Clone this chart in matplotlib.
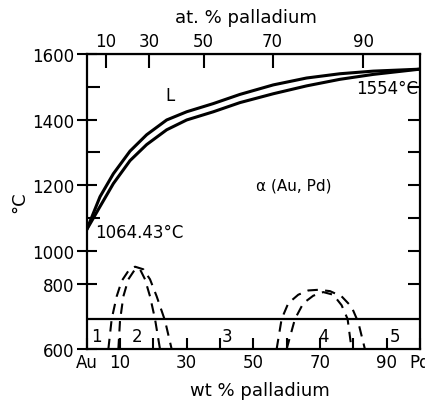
import numpy as np
import matplotlib
matplotlib.use('Agg')
import matplotlib.pyplot as plt

# Au-Pd phase diagram
liq_wt = [0, 4, 8, 13, 18, 24, 30, 38, 46, 56, 66, 76, 86, 100]
liq_T = [1064.43, 1165, 1235, 1304, 1354, 1399, 1424, 1449, 1477, 1506, 1527, 1540, 1548, 1554]
sol_wt = [0, 4, 8, 13, 18, 24, 30, 38, 46, 56, 66, 76, 86, 100]
sol_T = [1064.43, 1135, 1205, 1275, 1324, 1369, 1399, 1424, 1452, 1479, 1503, 1523, 1538, 1554]

# ordering domes (dashed)
d1o_wt = [6.5, 7.5, 9, 10.5, 12.5, 14.5, 17, 19, 21, 23.5, 25.5]
d1o_T = [600, 692, 761, 816, 877, 903, 887, 826, 761, 687, 600]
d1i_wt = [9.5, 10, 11, 12.5, 14.5, 16, 17.5, 19, 20.5, 22]
d1i_T = [600, 687, 761, 826, 887, 887, 826, 761, 692, 600]
d2o_wt = [57, 58.5, 60.5, 63.5, 66.5, 69.5, 73, 76.5, 79.5, 81.5, 83.5]
d2o_T = [600, 692, 740, 766, 779, 781, 777, 761, 729, 682, 600]
d2i_wt = [60, 62.5, 65, 68, 71, 74, 76.5, 78.3, 79.5]
d2i_T = [600, 692, 740, 763, 774, 766, 734, 692, 600]

sep_T = 692
region_labels = ['1', '2', '3', '4', '5']
region_wt = [3, 15, 42, 71, 92.5]


# temperature axis is squeezed to half scale between 800 and 1000 C
def fwd(y):
    y = np.asarray(y, dtype=float)
    return np.where(y <= 800, y, np.where(y <= 1000, 800 + (y - 800) / 2, 900 + (y - 1000)))


def inv(v):
    v = np.asarray(v, dtype=float)
    return np.where(v <= 800, v, np.where(v <= 900, 800 + (v - 800) * 2, 1000 + (v - 900)))


def wt_to_at(w):
    w = np.asarray(w, dtype=float)
    with np.errstate(divide='ignore', invalid='ignore'):
        a = w / 106.42
        b = (100 - w) / 196.97
        return 100 * a / (a + b)


def at_to_wt(x):
    x = np.asarray(x, dtype=float)
    with np.errstate(divide='ignore', invalid='ignore'):
        a = x * 106.42
        b = (100 - x) * 196.97
        return 100 * a / (a + b)


plt.rcParams['font.family'] = 'DejaVu Sans'
fig = plt.figure(figsize=(4.25, 4.02), dpi=100)
ax = fig.add_axes([0.204, 0.129, 0.784, 0.734])
ax.set_yscale('function', functions=(fwd, inv))

ax.plot(liq_wt, liq_T, color='black', lw=2.2, solid_capstyle='butt')
ax.plot(sol_wt, sol_T, color='black', lw=2.2, solid_capstyle='butt')
for xs, ys in [(d1o_wt, d1o_T), (d1i_wt, d1i_T), (d2o_wt, d2o_T), (d2i_wt, d2i_T)]:
    ax.plot(xs, ys, color='black', lw=1.5, dashes=(5, 3.5))
ax.axhline(sep_T, color='black', lw=1.6)

ax.set_xlim(0, 100)
ax.set_ylim(600, 1600)

for s in ax.spines.values():
    s.set_linewidth(1.6)

ax.set_yticks([600, 800, 1000, 1200, 1400, 1600])
ax.set_yticks([1100, 1300, 1500], minor=True)
ax.tick_params(axis='y', which='major', direction='inout', length=14, width=1.5,
               labelsize=12, pad=2)
ax.tick_params(axis='y', which='minor', direction='in', length=9, width=1.5)

# right side ticks point inward only
ax2 = ax.twinx()
ax2.set_yscale('function', functions=(fwd, inv))
ax2.set_ylim(600, 1600)
ax2.set_yticks([800, 1000, 1200, 1400])
ax2.set_yticks([1100, 1300, 1500], minor=True)
ax2.tick_params(axis='y', which='both', direction='in', length=9, width=1.5, labelright=False)
for s in ax2.spines.values():
    s.set_visible(False)

ax.set_xticks(range(0, 101, 10))
ax.set_xticklabels(['Au', '10', '', '30', '', '50', '', '70', '', '90', 'Pd'])
ax.xaxis.set_minor_locator(plt.NullLocator())
ax.tick_params(axis='x', direction='in', length=8, width=1.5, labelsize=12, pad=3)

sec = ax.secondary_xaxis('top', functions=(wt_to_at, at_to_wt))
sec.set_xticks([10, 30, 50, 70, 90])
sec.tick_params(direction='in', length=10, width=1.5, labelsize=12, pad=3)
sec.set_xlabel('at. % palladium', fontsize=13, labelpad=7)
sec.xaxis.label.set_x(0.478)

ax.set_xlabel('wt % palladium', fontsize=13, labelpad=7)
ax.xaxis.label.set_x(0.52)
ax.set_ylabel('°C', fontsize=13, labelpad=3)

ax.text(25, 1475, 'L', fontsize=12, ha='center', va='center')
ax.text(62, 1200, 'α (Au, Pd)', fontsize=11, ha='center', va='center')
ax.text(2.5, 1058, '1064.43°C', fontsize=12, ha='left', va='center')
ax.text(99.5, 1497, '1554°C', fontsize=12, ha='right', va='center')
for lab, x in zip(region_labels, region_wt):
    ax.text(x, 640, lab, fontsize=12, ha='center', va='center')

fig.savefig('out.png', dpi=100)
